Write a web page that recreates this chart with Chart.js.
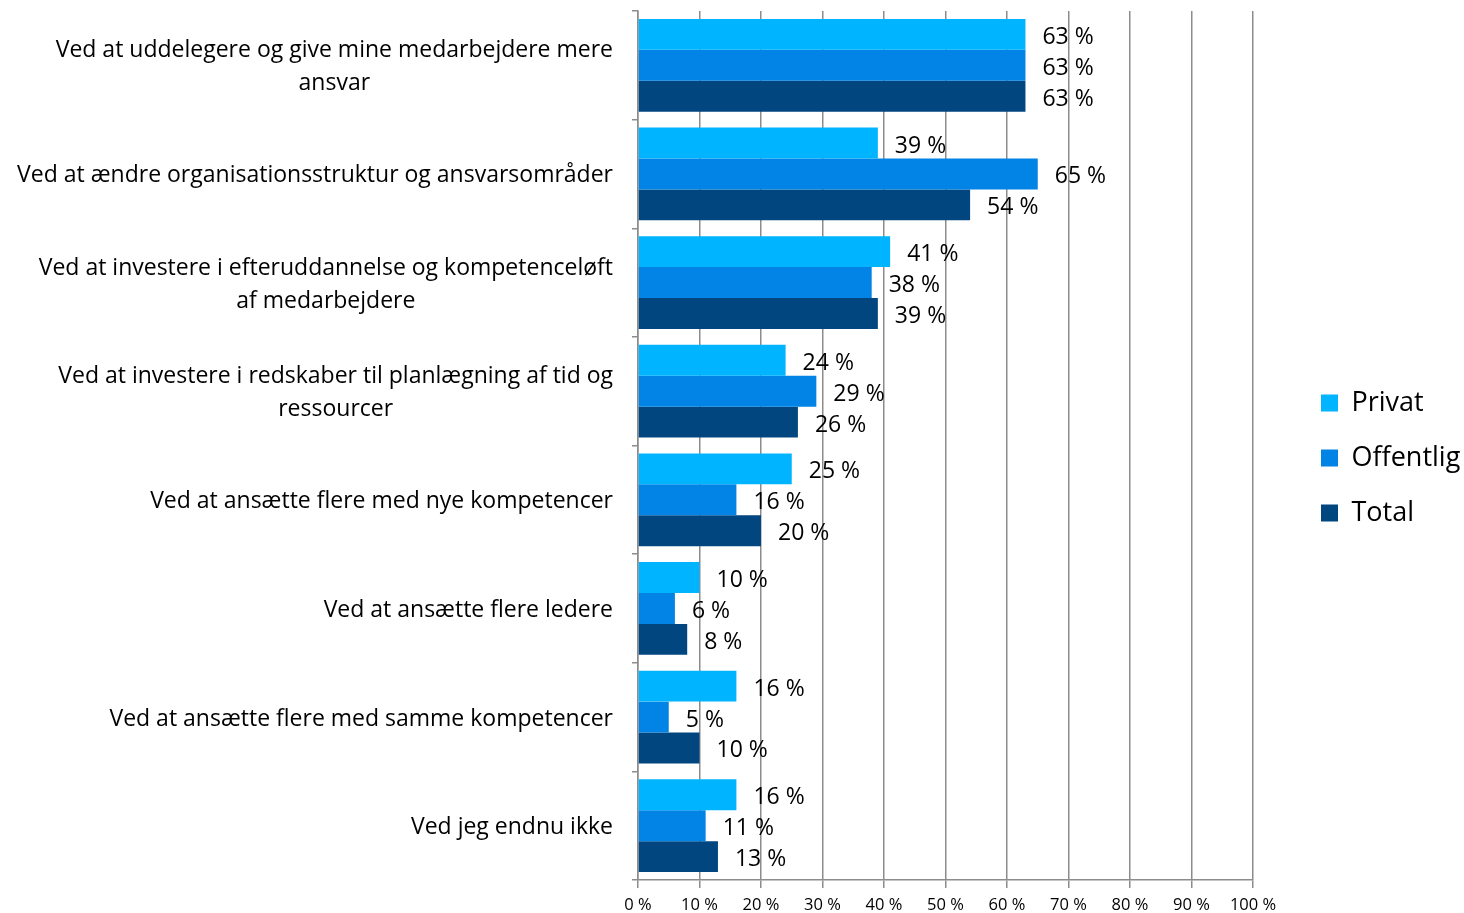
<!DOCTYPE html>
<html>
<head>
<meta charset="utf-8">
<script src="https://cdn.jsdelivr.net/npm/chart.js@4.4.1/dist/chart.umd.min.js"></script>
<style>
  html, body { margin: 0; padding: 0; background: #fff; }
  #wrap { width: 1464px; height: 913px; position: relative; }
</style>
</head>
<body>
<div id="wrap"><canvas id="chart"></canvas></div>
<script>
// categories, one entry per line of the label
const categories = [
  ['Ved at uddelegere og give mine medarbejdere mere', 'ansvar'],
  ['Ved at ændre organisationsstruktur og ansvarsområder'],
  ['Ved at investere i efteruddannelse og kompetenceløft', 'af medarbejdere'],
  ['Ved at investere i redskaber til planlægning af tid og', 'ressourcer'],
  ['Ved at ansætte flere med nye kompetencer'],
  ['Ved at ansætte flere ledere'],
  ['Ved at ansætte flere med samme kompetencer'],
  ['Ved jeg endnu ikke']
];
const privat    = [63, 39, 41, 24, 25, 10, 16, 16];
const offentlig = [63, 65, 38, 29, 16, 6, 5, 11];
const total     = [63, 54, 39, 26, 20, 8, 10, 13];
const xMin = 0, xMax = 100, xStep = 10;
const unit = ' %';

const FONT = '"Open Sans", Lato, sans-serif';
const GRID = '#8c8c8c';

// category labels: right aligned block, lines centred inside it
const yLabels = {
  id: 'yLabels',
  afterDraw(chart) {
    const ctx = chart.ctx, y = chart.scales.y;
    ctx.save();
    ctx.font = '23px ' + FONT;
    ctx.fillStyle = '#000';
    ctx.textAlign = 'center';
    ctx.textBaseline = 'middle';
    categories.forEach((lines, i) => {
      const w = Math.max(...lines.map(l => ctx.measureText(l).width));
      const cx = y.right - 25 - w / 2;
      const cy = y.getPixelForValue(i) + 2;
      lines.forEach((l, j) => ctx.fillText(l, cx, cy + (j - (lines.length - 1) / 2) * 33));
    });
    ctx.restore();
  }
};

// value labels after each bar
const valueLabels = {
  id: 'valueLabels',
  afterDatasetsDraw(chart) {
    const ctx = chart.ctx;
    ctx.save();
    ctx.font = '23px ' + FONT;
    ctx.fillStyle = '#000';
    ctx.textAlign = 'left';
    ctx.textBaseline = 'middle';
    chart.data.datasets.forEach((ds, di) => {
      chart.getDatasetMeta(di).data.forEach((bar, i) => {
        ctx.fillText(ds.data[i] + unit, bar.x + 17, bar.y + 3);
      });
    });
    ctx.restore();
  }
};

// nudge the legend away from the plot
const legendPlace = {
  id: 'legendPlace',
  afterLayout(chart) {
    const l = chart.legend;
    l.left += 40; l.right += 40;
    l.top -= 4; l.bottom -= 4;
  }
};

new Chart(document.getElementById('chart'), {
  type: 'bar',
  data: {
    labels: categories.map(c => c.join(' ')),
    datasets: [
      { label: 'Privat', data: privat, backgroundColor: '#00b4ff' },
      { label: 'Offentlig', data: offentlig, backgroundColor: '#0283e6' },
      { label: 'Total', data: total, backgroundColor: '#01467e' }
    ]
  },
  options: {
    indexAxis: 'y',
    responsive: true,
    maintainAspectRatio: false,
    animation: false,
    layout: { padding: { top: 11, left: 0, right: 0, bottom: 0 } },
    datasets: { bar: { categoryPercentage: 0.853, barPercentage: 1.0, borderWidth: 0 } },
    scales: {
      x: {
        min: xMin, max: xMax,
        grid: { color: GRID, lineWidth: 1.5, tickLength: 8 },
        border: { color: GRID, width: 1.5 },
        ticks: {
          stepSize: xStep,
          padding: 7,
          color: '#000',
          font: { family: FONT, size: 16.5 },
          callback: v => v + unit
        },
        afterFit(scale) { scale.height = 33; scale.paddingRight = 211; }
      },
      y: {
        grid: { color: GRID, lineWidth: 1.5, tickLength: 6, drawOnChartArea: false, offset: true },
        border: { color: GRID, width: 1.5 },
        ticks: { display: false },
        afterFit(scale) { scale.width = 638; }
      }
    },
    plugins: {
      legend: {
        position: 'right',
        labels: {
          boxWidth: 17, boxHeight: 17, padding: 28,
          color: '#000',
          font: { family: FONT, size: 27 }
        }
      },
      tooltip: { enabled: false }
    }
  },
  plugins: [yLabels, valueLabels, legendPlace]
});
</script>
</body>
</html>
